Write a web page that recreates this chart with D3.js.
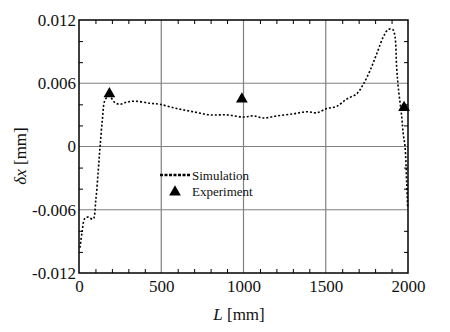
<!DOCTYPE html>
<html><head><meta charset="utf-8">
<script src="https://cdn.jsdelivr.net/npm/d3@7"></script>
<style>body{margin:0;background:#fff}svg{display:block}</style>
</head><body><svg id="c" width="450" height="332" font-family="Liberation Serif, Times New Roman, serif"></svg>
<script>
const simL = [6,18,36,57,85,102,117,128,142,158,184,215,249,290,340,432,492,594,693,796,898,999,1060,1120,1202,1303,1384,1445,1506,1566,1627,1688,1728,1769,1810,1850,1880,1907,1921,1931,1941,1962,1971,1982,1992,1998];
const simD = [-0.0096,-0.0082,-0.0068,-0.0067,-0.0069,-0.0051,-0.0023,0,0.0025,0.0044,0.0048,0.0042,0.0040,0.0042,0.0043,0.0041,0.0040,0.0036,0.0033,0.0030,0.0030,0.0028,0.0029,0.0027,0.0029,0.0031,0.0033,0.0032,0.0036,0.0038,0.0045,0.0050,0.0059,0.0072,0.0088,0.0104,0.0111,0.0111,0.0104,0.0075,0.0056,0.0028,0.0012,0,-0.0035,-0.0058];
const expL = [185, 990, 1976];
const expD = [0.0050, 0.0045, 0.0037];
const xTicks = [0, 500, 1000, 1500, 2000];
const yTicks = [-0.012, -0.006, 0, 0.006, 0.012];
const yTickLabels = ["-0.012", "-0.006", "0", "0.006", "0.012"];

const FONT = "Liberation Serif, Times New Roman, serif";
const svg = d3.select("#c");
const L = 79, R = 408, T = 20, B = 273;
const x = d3.scaleLinear().domain([0, 2000]).range([L, R]);
const y = d3.scaleLinear().domain([-0.012, 0.012]).range([B, T]);

// grid
const g = svg.append("g");
g.selectAll(".gx").data([500,1000,1500]).join("line")
  .attr("x1", d=>x(d)).attr("x2", d=>x(d)).attr("y1", T).attr("y2", B)
  .attr("stroke", "#808080").attr("stroke-width", 1.2);
g.selectAll(".gy").data([-0.006,0,0.006]).join("line")
  .attr("y1", d=>y(d)).attr("y2", d=>y(d)).attr("x1", L).attr("x2", R)
  .attr("stroke", "#808080").attr("stroke-width", 1.2);

// minor ticks via axes
const xMinor = d3.range(100, 2000, 100).filter(v => v % 500 !== 0);
const yMinor = [-0.01,-0.008,-0.004,-0.002,0.002,0.004,0.008,0.01];
svg.append("g").attr("transform", `translate(0,${B})`)
  .call(d3.axisTop(x).tickValues(xMinor).tickSize(4).tickFormat(""))
  .call(s=>s.select(".domain").remove());
svg.append("g").attr("transform", `translate(0,${T})`)
  .call(d3.axisBottom(x).tickValues(xMinor).tickSize(4).tickFormat(""))
  .call(s=>s.select(".domain").remove());
svg.append("g").attr("transform", `translate(${L},0)`)
  .call(d3.axisRight(y).tickValues(yMinor).tickSize(4).tickFormat(""))
  .call(s=>s.select(".domain").remove());
svg.append("g").attr("transform", `translate(${R},0)`)
  .call(d3.axisLeft(y).tickValues(yMinor).tickSize(4).tickFormat(""))
  .call(s=>s.select(".domain").remove());
svg.selectAll(".tick line").attr("stroke", "#000").attr("stroke-width", 1);

// frame
svg.append("rect").attr("x", L).attr("y", T).attr("width", R-L).attr("height", B-T)
  .attr("fill", "none").attr("stroke", "#000").attr("stroke-width", 1.5);

// tick labels
const xl = svg.append("g").attr("transform", `translate(0,${B})`)
  .call(d3.axisBottom(x).tickValues(xTicks).tickSize(0).tickPadding(7).tickFormat(d3.format("d")));
xl.attr("font-family", FONT).attr("font-size", 17);
xl.select(".domain").remove();
xl.selectAll("text").attr("fill", "#111");
const yl = svg.append("g").attr("transform", `translate(${L},0)`)
  .call(d3.axisLeft(y).tickValues(yTicks).tickSize(0).tickPadding(3).tickFormat((d,i)=>yTickLabels[i]));
yl.attr("font-family", FONT).attr("font-size", 17);
yl.select(".domain").remove();
yl.selectAll("text").attr("fill", "#111");

// axis titles
const xt = svg.append("text").attr("x", 239).attr("y", 320).attr("text-anchor", "middle")
  .attr("font-size", 17).attr("font-family", FONT).attr("fill", "#111");
xt.append("tspan").attr("font-style", "italic").text("L");
xt.append("tspan").text(" [mm]");
const yt = svg.append("text").attr("transform", "translate(26,156) rotate(-90)").attr("text-anchor", "middle")
  .attr("font-size", 17).attr("font-family", FONT).attr("fill", "#111");
yt.append("tspan").attr("font-style", "italic").text("δx");
yt.append("tspan").text(" [mm]");

// simulation line
const line = d3.line().x((d,i)=>x(simL[i])).y((d,i)=>y(simD[i])).curve(d3.curveCatmullRom);
svg.append("path").datum(simL).attr("d", line).attr("fill", "none")
  .attr("stroke", "#000").attr("stroke-width", 1.6).attr("stroke-dasharray", "2,2");

// experiment
const tri = d3.symbol().type(d3.symbolTriangle).size(60);
svg.selectAll(".exp").data(expL).join("path")
  .attr("transform", (d,i)=>`translate(${x(d)},${y(expD[i])})`).attr("d", tri).attr("fill", "#000");

// legend
svg.append("line").attr("x1", 160).attr("x2", 190).attr("y1", 175).attr("y2", 175)
  .attr("stroke", "#000").attr("stroke-width", 2.5).attr("stroke-dasharray", "3,1.5");
svg.append("text").attr("x", 192).attr("y", 180).attr("font-size", 13).attr("font-family", FONT).attr("fill", "#111").text("Simulation");
svg.append("path").attr("transform", "translate(175,192)").attr("d", tri).attr("fill", "#000");
svg.append("text").attr("x", 192).attr("y", 196).attr("font-size", 13).attr("font-family", FONT).attr("fill", "#111").text("Experiment");
</script></body></html>
